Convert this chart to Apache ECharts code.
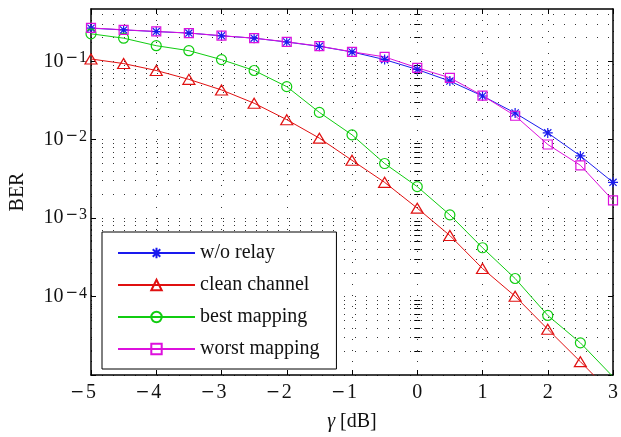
<!DOCTYPE html>
<html>
<head>
<meta charset="utf-8">
<script src="https://cdn.jsdelivr.net/npm/echarts@6/dist/echarts.min.js"></script>
<style>
  html, body { margin: 0; padding: 0; background: #fff; }
  #chart { width: 621px; height: 437px; }
</style>
</head>
<body>
<div id="chart"></div>
<script>
// SNR values in dB
const gammaDb = [-5, -4.5, -4, -3.5, -3, -2.5, -2, -1.5, -1, -0.5, 0, 0.5, 1, 1.5, 2, 2.5, 3];

// Bit error rates per scheme
const berNoRelay = [0.264, 0.251, 0.239, 0.229, 0.211, 0.197, 0.176, 0.155, 0.1316, 0.105, 0.0785, 0.0559, 0.0361, 0.0219, 0.01222, 0.00621, 0.00286];
const berClean = [0.107, 0.0935, 0.0763, 0.0588, 0.0431, 0.0292, 0.0180, 0.01047, 0.00546, 0.00286, 0.00134, 6.0e-4, 2.28e-4, 1.01e-4, 3.83e-5, 1.48e-5, 5.6e-6];
const berBest = [0.224, 0.197, 0.158, 0.1365, 0.105, 0.0763, 0.0475, 0.0223, 0.01153, 0.00497, 0.00252, 0.00110, 4.19e-4, 1.70e-4, 5.75e-5, 2.57e-5, 9.5e-6];
const berWorst = [0.266, 0.252, 0.240, 0.229, 0.212, 0.197, 0.177, 0.156, 0.132, 0.1137, 0.0826, 0.0616, 0.0365, 0.0202, 0.00869, 0.00472, 0.00168];

const seriesNames = ['w/o relay', 'clean channel', 'best mapping', 'worst mapping'];

// Axis ranges and tick positions
const xMin = -5, xMax = 3, xStep = 1;
const yMin = 1e-5, yMax = 0.464;
const yMajorTicks = [1e-5, 1e-4, 1e-3, 1e-2, 1e-1];
const yLabelTicks = [1e-4, 1e-3, 1e-2, 1e-1];
const yMinorTicks = [];
yMajorTicks.forEach(function (d) {
  for (let k = 2; k <= 9; k++) {
    const v = +(k * d).toPrecision(3);
    if (v <= yMax) yMinorTicks.push(v);
  }
});

const SERIF = '"Liberation Serif", "Times New Roman", serif';
const MINUS_FONT = '"DejaVu Serif", serif';

const asterisk = 'path://M0,-1L0,1M-1,0L1,0M-0.72,-0.72L0.72,0.72M-0.72,0.72L0.72,-0.72';

const dotted = { color: '#333', width: 1, type: [1, 10] };
const frameLine = { show: true, onZero: false, lineStyle: { color: '#000', width: 1.5 } };

function pairs(ys) {
  return gammaDb.map(function (x, i) { return [x, ys[i]]; });
}

function lineSeries(name, ys, color, symbol, size) {
  return {
    name: name,
    type: 'line',
    data: pairs(ys),
    xAxisIndex: 0,
    yAxisIndex: 0,
    symbol: symbol,
    symbolSize: size,
    showAllSymbol: true,
    clip: true,
    lineStyle: { color: color, width: 1 },
    itemStyle: { color: 'rgba(255,255,255,0)', borderColor: color, borderWidth: 1.2 },
    emphasis: { disabled: true },
    animation: false
  };
}

const chart = echarts.init(document.getElementById('chart'), null, { renderer: 'canvas' });

chart.setOption({
  backgroundColor: '#fff',
  animation: false,
  grid: { left: 90, right: 4, top: 9, bottom: 59, containLabel: false },
  legend: {
    orient: 'vertical',
    left: 102,
    top: 232,
    padding: [11, 17, 10, 15],
    itemWidth: 77,
    itemHeight: 13,
    itemGap: 12,
    backgroundColor: '#fff',
    borderColor: '#000',
    borderWidth: 1,
    borderRadius: 0,
    textStyle: { fontFamily: SERIF, fontSize: 20, color: '#111', lineHeight: 20 },
    data: seriesNames
  },
  xAxis: [
    {
      type: 'value', position: 'bottom', min: xMin, max: xMax, interval: xStep,
      axisLine: frameLine,
      axisTick: { show: true, inside: true, length: 5, lineStyle: { color: '#000', width: 1 } },
      splitLine: { show: true, lineStyle: dotted },
      axisLabel: {
        margin: 8,
        formatter: function (v) {
          return v < 0 ? '{m|\u2212}{d|' + (-v) + '}{p|}' : '{d|' + v + '}';
        },
        rich: {
          d: { fontFamily: SERIF, fontSize: 20, color: '#111' },
          m: { fontFamily: MINUS_FONT, fontSize: 17, color: '#111', padding: [0, 2, 0, 0] },
          p: { width: 16 }
        }
      },
      name: '{g|\u03b3} [dB]',
      nameLocation: 'middle',
      nameGap: 37,
      nameTextStyle: {
        fontFamily: SERIF, fontSize: 20, color: '#111',
        rich: { g: { fontFamily: SERIF, fontSize: 20, fontStyle: 'italic', color: '#111' } }
      }
    },
    {
      type: 'value', position: 'top', min: xMin, max: xMax, interval: xStep,
      axisLine: frameLine,
      axisTick: { show: true, inside: true, length: 5, lineStyle: { color: '#000', width: 1 } },
      axisLabel: { show: false },
      splitLine: { show: false }
    }
  ],
  yAxis: [
    {
      type: 'log', position: 'left', min: yMin, max: yMax,
      axisLine: frameLine,
      axisTick: { show: true, inside: true, length: 5, customValues: yMajorTicks, lineStyle: { color: '#000', width: 1 } },
      splitLine: { show: true, lineStyle: dotted },
      axisLabel: {
        customValues: yLabelTicks,
        margin: 4,
        formatter: function (v) {
          const e = Math.round(Math.log10(v));
          return '{b|10}{m|\u2212}{e|' + (-e) + '}';
        },
        rich: {
          b: { fontFamily: SERIF, fontSize: 20, lineHeight: 22, color: '#111' },
          m: { fontFamily: MINUS_FONT, fontSize: 15, lineHeight: 12, verticalAlign: 'top', color: '#111', padding: [0, 1, 0, 2] },
          e: { fontFamily: SERIF, fontSize: 16, lineHeight: 12, verticalAlign: 'top', color: '#111' }
        }
      },
      name: 'BER',
      nameLocation: 'middle',
      nameGap: 63,
      nameTextStyle: { fontFamily: SERIF, fontSize: 20, color: '#111' }
    },
    {
      type: 'log', position: 'left', min: yMin, max: yMax,
      axisLine: { show: false },
      axisTick: { show: true, inside: true, length: 3, customValues: yMinorTicks, lineStyle: { color: '#000', width: 1 } },
      splitLine: { show: true, lineStyle: dotted },
      axisLabel: { show: false }
    },
    {
      type: 'log', position: 'right', min: yMin, max: yMax,
      axisLine: frameLine,
      axisTick: { show: true, inside: true, length: 5, customValues: yMajorTicks, lineStyle: { color: '#000', width: 1 } },
      splitLine: { show: false },
      axisLabel: { show: false }
    },
    {
      type: 'log', position: 'right', min: yMin, max: yMax,
      axisLine: { show: false },
      axisTick: { show: true, inside: true, length: 3, customValues: yMinorTicks, lineStyle: { color: '#000', width: 1 } },
      splitLine: { show: false },
      axisLabel: { show: false }
    }
  ],
  series: [
    lineSeries(seriesNames[0], berNoRelay, '#1a1aee', asterisk, 10),
    lineSeries(seriesNames[1], berClean, '#e01010', 'triangle', [12, 10]),
    lineSeries(seriesNames[2], berBest, '#10cc10', 'circle', 10),
    lineSeries(seriesNames[3], berWorst, '#dd10dd', 'rect', 9)
  ]
});
</script>
</body>
</html>
